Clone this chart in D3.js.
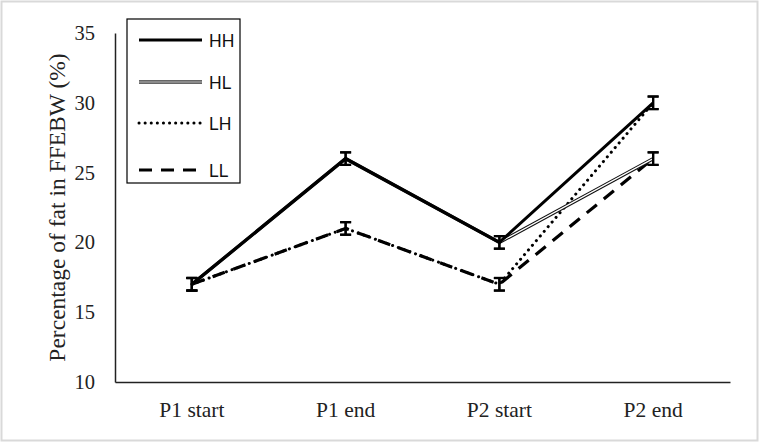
<!DOCTYPE html>
<html><head><meta charset="utf-8">
<script src="https://cdn.jsdelivr.net/npm/d3@7"></script>
<style>body{margin:0;background:#fff}svg{display:block}</style>
</head><body>
<script>
const categories = ["P1 start", "P1 end", "P2 start", "P2 end"];
const seriesNames = ["HH", "HL", "LH", "LL"];
const HH = [17, 26, 20, 30];
const HL = [17, 26, 20, 26];
const LH = [17, 21, 17, 30];
const LL = [17, 21, 17, 26];
const errors = [0.45, 0.45, 0.45, 0.45];
const yTicks = [10, 15, 20, 25, 30, 35];
const yTitle = "Percentage of fat in FFEBW (%)";

const W = 760, H = 444;
const svg = d3.select("body").append("svg").attr("width", W).attr("height", H);
svg.append("rect").attr("x", 1.5).attr("y", 1.5).attr("width", W - 4).attr("height", H - 5)
  .attr("fill", "#fff").attr("stroke", "#d9d9d9").attr("stroke-width", 2);

const m = {l: 115, r: 730, t: 33, b: 382};
const x = d3.scaleBand().domain(categories).range([m.l, m.r]);
const y = d3.scaleLinear().domain([10, 35]).range([m.b, m.t]);
const cx = c => x(c) + x.bandwidth() / 2;

// axes
const yAxis = svg.append("g").attr("transform", `translate(${m.l},0)`)
  .call(d3.axisLeft(y).tickValues(yTicks).tickSize(0).tickPadding(20));
yAxis.select(".domain").attr("stroke", "#222").attr("stroke-width", 1.5);
yAxis.selectAll("text").attr("font-family", "Liberation Serif").attr("font-size", 20.5).attr("fill", "#222");

const xAxis = svg.append("g").attr("transform", `translate(0,${m.b})`)
  .call(d3.axisBottom(x).tickSize(0).tickPadding(20));
xAxis.select(".domain").attr("stroke", "#222").attr("stroke-width", 1.5);
xAxis.selectAll("text").attr("font-family", "Liberation Serif").attr("font-size", 21.5).attr("fill", "#222");

svg.append("text").attr("transform", `translate(57,${(m.t + m.b) / 2}) rotate(-90)`)
  .attr("text-anchor", "middle").attr("dominant-baseline", "central")
  .attr("font-family", "Liberation Serif").attr("font-size", 23.5)
  .attr("fill", "#222").text(yTitle);

const line = d3.line().x((d, i) => cx(categories[i])).y(d => y(d));

const styles = {
  HH: [{stroke: "#000", w: 3, dash: null}],
  HL: [{stroke: "#111", w: 3.4, dash: null}, {stroke: "#fff", w: 1.2, dash: null}],
  LH: [{stroke: "#000", w: 3, dash: "0.1,6", cap: "round"}],
  LL: [{stroke: "#000", w: 3.2, dash: "13,9"}]
};
const legStyles = Object.assign({}, styles, {
  HL: [{stroke: "#333", w: 3.4, dash: null}, {stroke: "#aaa", w: 1.4, dash: null}]
});
const data = {HH, HL, LH, LL};

function drawStyled(g, pathD, st) {
  st.forEach(s => {
    const p = g.append("path").attr("d", pathD).attr("fill", "none")
      .attr("stroke", s.stroke).attr("stroke-width", s.w);
    if (s.dash) p.attr("stroke-dasharray", s.dash);
    if (s.cap) p.attr("stroke-linecap", s.cap);
  });
}

const gl = svg.append("g");
["LL", "LH", "HL", "HH"].forEach(k => drawStyled(gl, line(data[k]), styles[k]));

// error bars
const ge = svg.append("g").attr("stroke", "#000").attr("stroke-width", 2.2);
seriesNames.forEach(k => {
  data[k].forEach((v, i) => {
    const xc = cx(categories[i]);
    const e = errors[i];
    ge.append("line").attr("x1", xc).attr("x2", xc).attr("y1", y(v - e)).attr("y2", y(v + e));
    ge.append("line").attr("x1", xc - 5.5).attr("x2", xc + 5.5).attr("y1", y(v - e)).attr("y2", y(v - e));
    ge.append("line").attr("x1", xc - 5.5).attr("x2", xc + 5.5).attr("y1", y(v + e)).attr("y2", y(v + e));
  });
});

// legend
const leg = svg.append("g");
leg.append("rect").attr("x", 127).attr("y", 19).attr("width", 113).attr("height", 164)
  .attr("fill", "#fff").attr("stroke", "#000").attr("stroke-width", 1.2);
const legY = [40, 82, 123, 170];
seriesNames.forEach((k, i) => {
  const yy = legY[i];
  drawStyled(leg, `M139,${yy}H202`, legStyles[k]);
  leg.append("text").attr("x", 209).attr("y", yy + 6.5).attr("font-family", "Liberation Sans")
    .attr("font-size", 17.5).attr("fill", "#111").text(k);
});
</script>
</body></html>
